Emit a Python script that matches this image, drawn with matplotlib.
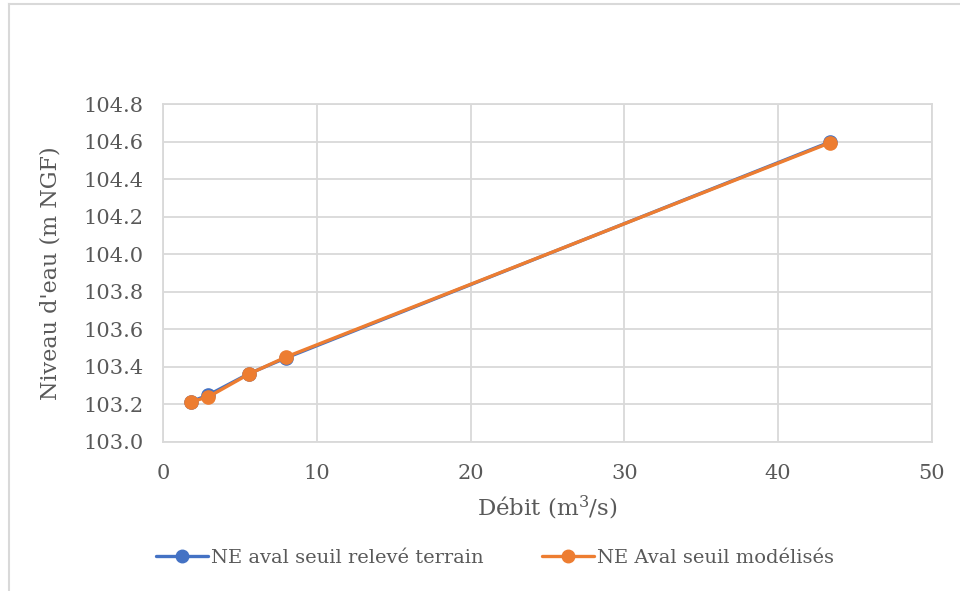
import matplotlib
matplotlib.use("Agg")
import matplotlib.pyplot as plt
from matplotlib.lines import Line2D

# Débit (m3/s) et niveaux d'eau (m NGF)
debit = [1.78, 2.89, 5.58, 8.0, 43.4]
niveau_releve = [103.213, 103.247, 103.363, 103.447, 104.598]
niveau_modelise = [103.213, 103.237, 103.361, 103.452, 104.594]

x_ticks = [0, 10, 20, 30, 40, 50]
y_ticks = [103.0, 103.2, 103.4, 103.6, 103.8, 104.0, 104.2, 104.4, 104.6, 104.8]

series_names = ["NE aval seuil relevé terrain", "NE Aval seuil modélisés"]
colors = ["#4472C4", "#ED7D31"]

plt.rcParams["font.family"] = ["DejaVu Serif"]
plt.rcParams["mathtext.fontset"] = "dejavuserif"

text_color = "#595959"
grid_color = "#D9D9D9"

fig = plt.figure(figsize=(9.6, 5.91), dpi=100)
W, H = 960, 591

# chart area border (left and top edges)
fig.add_artist(Line2D([9 / W, 9 / W], [0, 1 - 4 / H], transform=fig.transFigure,
                      color=grid_color, lw=1.5))
fig.add_artist(Line2D([9 / W, 1], [1 - 4 / H, 1 - 4 / H], transform=fig.transFigure,
                      color=grid_color, lw=1.5))

ax = fig.add_axes([163.3 / W, 1 - 441.7 / H, (931.7 - 163.3) / W, (441.7 - 104) / H])

for y, name, c in zip([niveau_releve, niveau_modelise], series_names, colors):
    ax.plot(debit, y, color=c, lw=2.4, marker="o", markersize=9.5,
            label=name, solid_capstyle="round", zorder=3)

ax.set_xlim(0, 50)
ax.set_ylim(103.0, 104.8)
ax.set_xticks(x_ticks)
ax.set_yticks(y_ticks)
ax.set_yticklabels([f"{v:.1f}" for v in y_ticks])
ax.grid(True, color=grid_color, lw=1.3)
ax.set_axisbelow(True)
for s in ax.spines.values():
    s.set_color(grid_color)
    s.set_linewidth(1.3)
ax.tick_params(length=0, labelsize=15, colors=text_color, pad=14)
ax.tick_params(axis="x", pad=16)

ax.set_xlabel("Débit (m$^3$/s)", fontsize=16.5, color=text_color, labelpad=8)
ax.set_ylabel("Niveau d'eau (m NGF)", fontsize=16, color=text_color, labelpad=16)

leg = fig.legend(loc="center", bbox_to_anchor=(495 / W, 1 - 558 / H), ncol=2,
                 frameon=False, fontsize=14, handlelength=2.7, columnspacing=3.0,
                 handletextpad=0.15, labelcolor=text_color)
for h in leg.legend_handles:
    h.set_markersize(9)

fig.savefig("out.png", dpi=100)
